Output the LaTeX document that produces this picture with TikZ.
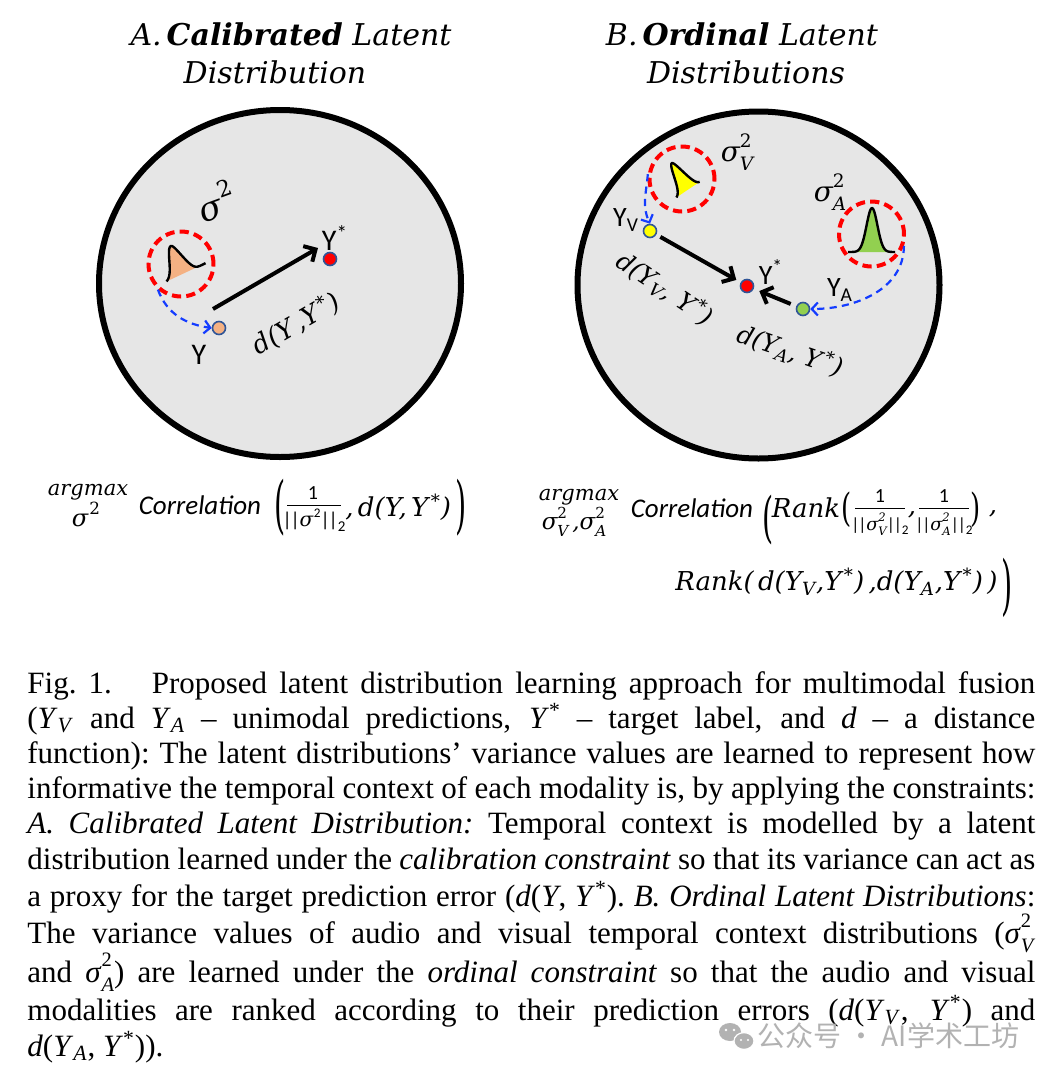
\documentclass[tikz,border=0pt]{standalone}
\usepackage{fontspec}
\usepackage{graphicx}
\setmainfont{Liberation Serif}
\newfontfamily\cam{DejaVu Serif}
\newfontfamily\calib{Carlito}
\newfontfamily\cjk{Noto Sans CJK SC}
\usetikzlibrary{arrows.meta,shapes.geometric}
\newcommand{\fsz}[1]{\fontsize{#1}{#1}\selectfont}
\newcommand{\capline}[1]{\hbox to 504pt{\spaceskip=0.25em plus 2em minus 0.15em\xspaceskip=\spaceskip #1}}
\newcommand{\sgm}[2]{\textit{σ}\makebox[0pt][l]{\raisebox{0.5em}{\scalebox{0.66}{#1}}}\raisebox{-0.3em}{\scalebox{0.66}{\textit{#2}}}}
\newcommand{\nrm}[1]{|\kern-0.6pt|#1|\kern-0.6pt|\raisebox{-0.25em}{\scalebox{0.75}{2}}}
\newcommand{\ystar}{Y\kern1.2pt\textsuperscript{*}}
\definecolor{bggray}{RGB}{230,230,230}
\definecolor{dotedge}{RGB}{47,85,151}
\definecolor{peach}{RGB}{244,177,131}
\definecolor{ylw}{RGB}{255,255,0}
\definecolor{grn}{RGB}{146,208,80}
\definecolor{dblue}{RGB}{20,60,255}
\definecolor{wmgray}{RGB}{178,178,178}
\begin{document}
\begin{tikzpicture}[x=0.5pt,y=-0.5pt,
  bigcirc/.style={ellipse, draw=black, line width=3pt, fill=bggray, minimum width=181pt, minimum height=173.5pt, inner sep=0pt},
  reddash/.style={circle, draw=red, line width=2pt, dash pattern=on 4.6pt off 2.6pt, minimum size=32.5pt, inner sep=0pt},
  bluedash/.style={draw=dblue, line width=1.1pt, dash pattern=on 3.6pt off 2.6pt, -{Straight Barb[length=3pt,width=6.5pt]}},
  dotnode/.style={circle, draw=dotedge, line width=0.8pt, minimum size=6.5pt, inner sep=0pt},
  mainarrow/.style={draw=black, line width=2pt, -{Straight Barb[length=4.5pt,width=9pt]}},
  lbl/.style={inner sep=0pt, font=\calib\fsz{15}},
  dlbl/.style={inner sep=0pt, font=\cam\itshape\fsz{13}},
  ttl/.style={inner sep=0pt, anchor=base, font=\cam\itshape\fsz{15}},
  eq/.style={inner sep=0pt, font=\cam\itshape\fsz{13}},
  eqsmall/.style={inner sep=0pt, font=\calib\fsz{10}},
  paren/.style={inner sep=0pt, font=\cam\fsz{13}},
  capstyle/.style={anchor=base west, inner sep=0pt, font=\fsz{15.5}},
  curve/.style={draw=black, line width=1.2pt, line join=round}
]
\useasboundingbox (0,0) rectangle (1059,1082);
\fill[white] (0,0) rectangle (1059,1082);

% titles
\node[ttl] (tA1) at (291,45) {A.\,\textbf{Calibrated} Latent};
\node[ttl] (tA2) at (275,83) {Distribution};
\node[ttl] (tB1) at (742,45) {B.\,\textbf{Ordinal} Latent};
\node[ttl] (tB2) at (746,83) {Distributions};

% big circles
\node[bigcirc] (cA) at (280,283.5) {};
\node[bigcirc] (cB) at (758.5,285) {};

% ---------- panel A ----------
\begin{scope}[shift={(185,273.6)},rotate=27]
  \fill[peach] plot[domain=-20:0,samples=30,smooth] (\x,{-31*exp(-0.0078*(\x)*(\x))}) -- plot[domain=0:23,samples=30,smooth] (\x,{-31*exp(-0.02*(\x)*(\x))}) -- cycle;
  \draw[curve] plot[domain=-20:0,samples=30,smooth] (\x,{-31*exp(-0.0078*(\x)*(\x))}) -- plot[domain=0:23,samples=30,smooth] (\x,{-31*exp(-0.02*(\x)*(\x))});
\end{scope}
\node[reddash] (rc1) at (181,264) {};
\node[inner sep=0pt, font=\cam\itshape\fsz{17}, rotate=20] (s1) at (216,201) {σ\kern1pt\raisebox{0.5em}{\scalebox{0.66}{\upshape 2}}};

\node[dotnode, fill=peach] (nY) at (219,328) {};
\node[dotnode, fill=red] (nYs) at (330,259) {};
\node[lbl] (lY) at (199,355) {Y};
\node[lbl] (lYs) at (335,238) {Y\textsuperscript{*}};
\coordinate (a1s) at (213,309);
\coordinate (a1e) at (318,248);
\draw[mainarrow] (a1s) -- (a1e);
\node[dlbl, rotate=30] (dA) at (296,324) {d(Y\,,\ystar)};
\draw[bluedash] (rc1.228) to[out=-70,in=172] (nY.west);

% ---------- panel B ----------
\begin{scope}[shift={(690,189)},rotate=35]
  \fill[ylw] plot[domain=-16:0,samples=30,smooth] (\x,{-31.6*exp(-0.0139*(\x)*(\x))}) -- plot[domain=0:12,samples=30,smooth] (\x,{-31.6*exp(-0.031*(\x)*(\x))}) -- cycle;
  \draw[curve] plot[domain=-16:0,samples=30,smooth] (\x,{-31.6*exp(-0.0139*(\x)*(\x))}) -- plot[domain=0:12,samples=30,smooth] (\x,{-31.6*exp(-0.031*(\x)*(\x))});
\end{scope}
\begin{scope}[shift={(872,252)}]
  \fill[grn] plot[domain=-24:23,samples=60,smooth] (\x,{-44*exp(-0.017*(\x)*(\x))}) -- cycle;
  \draw[curve] plot[domain=-24:23,samples=60,smooth] (\x,{-44*exp(-0.017*(\x)*(\x))});
\end{scope}
\node[reddash] (rc2) at (682,179) {};
\node[reddash] (rc3) at (871.5,234) {};
\node[inner sep=0pt, font=\cam\itshape\fsz{14}] (s2) at (737,152) {\sgm{\upshape 2}{V}};
\node[inner sep=0pt, font=\cam\itshape\fsz{14}] (s3) at (830,192) {\sgm{\upshape 2}{A}};

\node[dotnode, fill=ylw] (nYV) at (650,231) {};
\node[dotnode, fill=red] (nYs2) at (747,286) {};
\node[dotnode, fill=grn] (nYA) at (803,309) {};
\node[lbl, font=\calib\fsz{14}] (lYV) at (626,220) {Y\textsubscript{V}};
\node[lbl, font=\calib\fsz{14}] (lYs2) at (771,272) {Y\textsuperscript{*}};
\node[lbl, font=\calib\fsz{14}] (lYA) at (840,290) {Y\textsubscript{A}};
\draw[mainarrow, shorten <=2.3pt, shorten >=2.5pt] (nYV) -- (nYs2);
\draw[mainarrow, shorten <=3pt, shorten >=3pt] (nYA) -- (nYs2);
\node[dlbl, font=\cam\itshape\fsz{12.5}, rotate=-34] (dV) at (665,289) {d(Y\textsubscript{V}, \ystar)};
\node[dlbl, font=\cam\itshape\fsz{12.5}, rotate=-19] (dAA) at (790,351) {d(Y\textsubscript{A}, \ystar)};
\draw[bluedash] (rc2.172) to[out=-95,in=115] (nYV.north);
\draw[bluedash] (rc3.-20) to[out=-90,in=0] (nYA.east);

% ---------- formula A ----------
\node[eq, font=\cam\itshape\fsz{10.5}] (am1) at (88,492) {argmax};
\node[eq, font=\cam\itshape\fsz{12}] (sg1) at (86,514) {σ\kern0.5pt\raisebox{0.5em}{\scalebox{0.7}{\upshape 2}}};
\node[inner sep=0pt, font=\calib\itshape\fsz{13.5}] (corr1) at (200,505) {Correlation};
\node[paren] (lp1) at (280,508) {\scalebox{1.1}[2.4]{(}};
\node[eqsmall] (num1) at (313,493) {1};
\draw[line width=0.5pt] (287,505) -- (341,505);
\node[eqsmall] (den1) at (314,520) {\nrm{{\cam\itshape σ}\kern0.3pt\raisebox{0.45em}{\scalebox{0.66}{2}}}};
\node[eq, anchor=west] (dd1) at (345,507) {,\,d(Y,\,\ystar)};
\node[paren] (rp1) at (461,508) {\scalebox{1.1}[2.4]{)}};

% ---------- formula B ----------
\node[eq, font=\cam\itshape\fsz{10.5}] (am2) at (579,497) {argmax};
\node[eq, font=\cam\itshape\fsz{11.5}] (sg2) at (574,522) {\sgm{\upshape 2}{V}\,,\sgm{\upshape 2}{A}};
\node[inner sep=0pt, font=\calib\itshape\fsz{13.5}] (corr2) at (692,508) {Correlation};
\node[paren] (lp2) at (768,520) {\scalebox{1.1}[2.1]{(}};
\node[eq] (rk1) at (806,508) {Rank};
\node[paren] (lp3) at (847,510) {\scalebox{1}[1.5]{(}};
\node[eqsmall] (num2) at (880,496) {1};
\draw[line width=0.5pt] (855,508) -- (905,508);
\node[eqsmall, font=\calib\fsz{8.8}] (den2) at (880,524) {\nrm{{\cam\itshape\sgm{2}{V}}}};
\node[eq] (cm1) at (912,515) {,};
\node[eqsmall] (num3) at (944,496) {1};
\draw[line width=0.5pt] (919,508) -- (969,508);
\node[eqsmall, font=\calib\fsz{8.8}] (den3) at (944,524) {\nrm{{\cam\itshape\sgm{2}{A}}}};
\node[paren] (rp3) at (976,510) {\scalebox{1}[1.5]{)}};
\node[eq] (cm2) at (993,514) {,};
\node[eq, anchor=base west] (rk2) at (675,590) {Rank(\,d(Y\textsubscript{V},\ystar)\,,d(Y\textsubscript{A},\ystar)\,)};
\node[paren] (rp2) at (1007,588) {\scalebox{1.1}[2.5]{)}};

% ---------- caption ----------
\node[capstyle] (c1) at (27,693) {\capline{Fig.~1.\hskip 20pt Proposed latent distribution learning approach for multimodal fusion}};
\node[capstyle] (c2) at (27,728) {\capline{(\textit{Y}\textsubscript{\textit{V}} and \textit{Y}\textsubscript{\textit{A}} – unimodal predictions, \textit{Y}\textsuperscript{*} – target label, and \textit{d} – a distance}};
\node[capstyle] (c3) at (27,763) {\capline{function): The latent distributions’ variance values are learned to represent how}};
\node[capstyle] (c4) at (27,798) {\capline{informative the temporal context of each modality is, by applying the constraints:}};
\node[capstyle] (c5) at (27,833) {\capline{\textit{A. Calibrated Latent Distribution:} Temporal context is modelled by a latent}};
\node[capstyle] (c6) at (27,869) {\capline{distribution learned under the \textit{calibration constraint} so that its variance can act as}};
\node[capstyle] (c7) at (27,906) {\capline{a proxy for the target prediction error (\textit{d}(\textit{Y}, \textit{Y}\textsuperscript{*}). \textit{B. Ordinal Latent Distributions}:}};
\node[capstyle] (c8) at (27,943) {\capline{The variance values of audio and visual temporal context distributions (\sgm{2}{V}}};
\node[capstyle] (c9) at (27,982) {\capline{and \sgm{2}{A}) are learned under the \textit{ordinal constraint} so that the audio and visual}};
\node[capstyle] (c10) at (27,1020) {\capline{modalities are ranked according to their prediction errors (\textit{d}(\textit{Y}\textsubscript{\textit{V}}, \textit{Y}\textsuperscript{*}) and}};
\node[capstyle] (c11) at (27,1056) {\textit{d}(\textit{Y}\textsubscript{\textit{A}}, \textit{Y}\textsuperscript{*})).};

% ---------- watermark ----------
\fill[wmgray] (730,1032) ellipse [x radius=5.5pt, y radius=4.5pt];
\filldraw[fill=wmgray, draw=white, line width=0.6pt] (744,1041) ellipse [x radius=5pt, y radius=4.2pt];
\fill[white] (726,1030) circle [radius=0.7pt] (734,1030) circle [radius=0.7pt] (741,1040) circle [radius=0.6pt] (748,1040) circle [radius=0.6pt];
\node[inner sep=0pt, anchor=west, text=wmgray, font=\cjk\fsz{14}] (wm) at (757,1036) {公众号 · AI学术工坊};
\end{tikzpicture}
\end{document}
